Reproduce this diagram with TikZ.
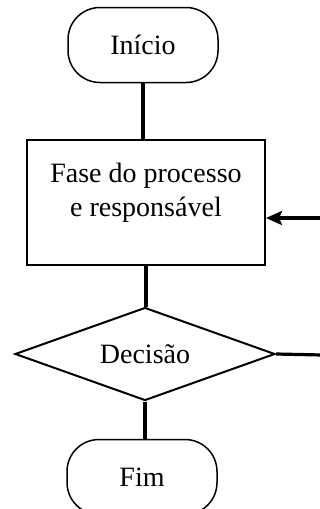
\documentclass[tikz,border=0pt]{standalone}
\usepackage{fontspec}
\setmainfont{Liberation Serif}
\usetikzlibrary{shapes.geometric,arrows.meta}
\begin{document}
\begin{tikzpicture}[x=1pt,y=-1pt,
  term/.style={draw,line width=1.5pt,rounded corners=32pt,minimum width=150pt,minimum height=75pt,inner sep=0pt,font=\fontsize{28}{32}\selectfont},
  procbox/.style={draw,line width=2pt,minimum width=238pt,minimum height=125pt,inner sep=0pt},
  decis/.style={draw,line width=2pt,diamond,aspect=2.8,minimum width=260pt,minimum height=93pt,inner sep=0pt,font=\fontsize{28}{32}\selectfont},
  conn/.style={line width=3.2pt}]
\useasboundingbox (0,0) rectangle (320,509);
\node[term] (inicio) at (143,45) {Início};
\node[procbox] (fase) at (146,202) {};
\node[align=center,font=\fontsize{28}{34}\selectfont,inner sep=0pt] (fasetxt) at (146,193) {Fase do processo\\e responsável};
\node[decis] (dec) at (145,354) {Decisão};
\node[term] (fim) at (142,477) {Fim};
\coordinate (inR) at (322,218);
\coordinate (outR) at (322,355);
\draw[conn] (inicio.south) -- (inicio.south |- fase.north);
\draw[conn] (fase.south) -- (fase.south |- dec.north);
\draw[conn] (dec.south) -- (dec.south |- fim.north);
\draw[conn] (dec.east) -- (outR);
\draw[conn,-{Stealth[length=16pt,width=14pt,inset=3pt]}] (inR) -- (fase.east |- inR);
\end{tikzpicture}
\end{document}
